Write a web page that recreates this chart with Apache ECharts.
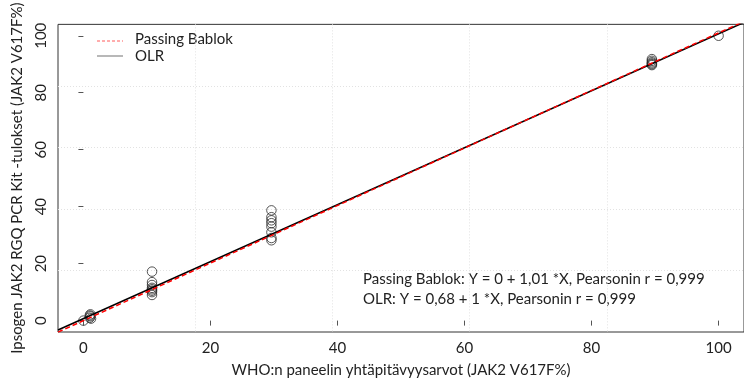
<!DOCTYPE html>
<html>
<head>
<meta charset="utf-8">
<script src="https://cdn.jsdelivr.net/npm/echarts@6/dist/echarts.min.js"></script>
<style>html,body{margin:0;padding:0;background:#fff}#c{width:744px;height:383px}</style>
</head>
<body>
<div id="c"></div>
<script>
// ---- data ----
const whoX = [0, 1.0, 1.1, 1.1, 1.2, 1.0, 10.8, 10.8, 10.8, 10.8, 10.8, 10.8, 10.8, 10.8,
  29.6, 29.6, 29.6, 29.6, 29.6, 29.6, 29.6, 29.6, 89.5, 89.5, 89.5, 89.5, 89.5, 89.5, 100];
const ipsogenY = [0, 1.0, 1.5, 2.2, 0.7, 1.8, 17.2, 13.5, 12.5, 11.5, 11.0, 10.5, 10.0, 9.0,
  38.7, 36.3, 35.2, 34.2, 33.0, 31.0, 29.0, 28.2, 91.8, 91.2, 90.7, 90.3, 90.0, 89.7, 100];
const pbIntercept = 0, pbSlope = 1.01;
const olrIntercept = 0.68, olrSlope = 1;
const xTicks = [0, 20, 40, 60, 80, 100];
const yTicks = [0, 20, 40, 60, 80, 100];
const axisMin = -4, axisMax = 104;
const legendLabels = ['Passing Bablok', 'OLR'];
const annotation = ['Passing Bablok: Y = 0 + 1,01 *X, Pearsonin r = 0,999',
  'OLR: Y = 0,68 + 1 *X, Pearsonin r = 0,999'];
const xName = 'WHO:n paneelin yhtäpitävyysarvot (JAK2 V617F%)';
const yName = 'Ipsogen JAK2 RGQ PCR Kit -tulokset (JAK2 V617F%)';

const FONT = 'Lato';
const FS = 15;
const pts = whoX.map((x, i) => [x, ipsogenY[i]]);
const lineData = (a, b) => [[axisMin, a + b * axisMin], [axisMax, a + b * axisMax]];

const chart = echarts.init(document.getElementById('c'), null, {renderer: 'canvas'});
const gridSpan = axisMax - axisMin;
const gridLineStyle = {color: '#e2e2e2', type: [1, 2], width: 1};
chart.setOption({
  animation: false,
  grid: {left: 58, top: 12, right: -2, bottom: 50, show: true, borderColor: '#333', borderWidth: 1, backgroundColor: 'transparent'},
  xAxis: [{
    type: 'value', min: axisMin, max: axisMax,
    axisLine: {show: false},
    axisTick: {show: true, length: 5, customValues: xTicks, lineStyle: {color: '#555'}},
    axisLabel: {customValues: xTicks, margin: 9, color: '#222', fontSize: FS, fontFamily: FONT},
    splitLine: {show: false},
    name: xName, nameLocation: 'middle', nameGap: 31,
    nameTextStyle: {color: '#222', fontSize: FS, fontFamily: FONT}
  }, {
    type: 'value', min: 0, max: gridSpan, interval: gridSpan / 5,
    axisLine: {show: false}, axisTick: {show: false}, axisLabel: {show: false},
    splitLine: {show: true, showMinLine: false, showMaxLine: false, lineStyle: gridLineStyle}
  }],
  yAxis: [{
    type: 'value', min: axisMin, max: axisMax,
    axisLine: {show: false},
    axisTick: {show: true, length: 5, customValues: yTicks, lineStyle: {color: '#555'}},
    axisLabel: {customValues: yTicks, margin: 9, rotate: 90, color: '#222', fontSize: FS, fontFamily: FONT},
    splitLine: {show: false},
    name: yName, nameLocation: 'middle', nameGap: 33, nameRotate: 90,
    nameTextStyle: {color: '#222', fontSize: FS, fontFamily: FONT}
  }, {
    type: 'value', min: 0, max: gridSpan, interval: gridSpan / 5,
    axisLine: {show: false}, axisTick: {show: false}, axisLabel: {show: false},
    splitLine: {show: true, showMinLine: false, showMaxLine: false, lineStyle: gridLineStyle}
  }],
  series: [{
    type: 'scatter', xAxisIndex: 0, yAxisIndex: 0, data: pts, symbol: 'circle', symbolSize: 9.5, z: 2,
    itemStyle: {color: 'rgba(0,0,0,0)', borderColor: '#2a2a2a', borderWidth: 1}
  }, {
    type: 'line', name: legendLabels[1], xAxisIndex: 0, yAxisIndex: 0, data: lineData(olrIntercept, olrSlope),
    showSymbol: false, z: 3, lineStyle: {color: '#000', width: 1.6}
  }, {
    type: 'line', name: legendLabels[0], xAxisIndex: 0, yAxisIndex: 0, data: lineData(pbIntercept, pbSlope),
    showSymbol: false, z: 4, lineStyle: {color: '#ff0000', width: 1.5, type: [5, 3]}
  }],
  graphic: [
    {type: 'line', shape: {x1: 97, y1: 41, x2: 123, y2: 41}, style: {stroke: '#ff5a5a', lineWidth: 1, lineDash: [3, 2]}},
    {type: 'line', shape: {x1: 97, y1: 56, x2: 123, y2: 56}, style: {stroke: '#888', lineWidth: 1.2}},
    {type: 'text', left: 135, top: 32, style: {text: legendLabels[0], fill: '#222', font: FS + 'px ' + FONT}},
    {type: 'text', left: 135, top: 49, style: {text: legendLabels[1], fill: '#222', font: FS + 'px ' + FONT}},
    {type: 'text', left: 363, top: 272, style: {text: annotation[0], fill: '#222', font: FS + 'px ' + FONT}},
    {type: 'text', left: 363, top: 292, style: {text: annotation[1], fill: '#222', font: FS + 'px ' + FONT}}
  ]
});
</script>
</body>
</html>
